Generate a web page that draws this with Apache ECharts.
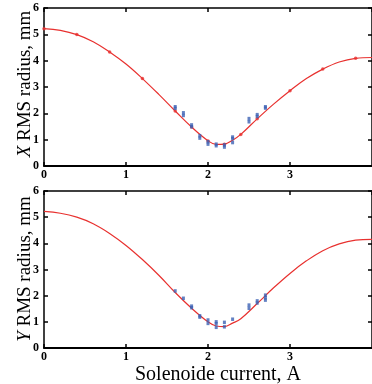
<!DOCTYPE html>
<html><head><meta charset="utf-8">
<script src="https://cdn.jsdelivr.net/npm/echarts@6/dist/echarts.min.js"></script>
<style>html,body{margin:0;padding:0;background:#fff}#c{width:372px;height:384px}</style>
</head><body><div id="c"></div>
<script>
// Fit curve, X panel
var fitXcur = [0,0.2,0.4,0.6,0.8,1.0,1.2,1.4,1.6,1.8,2.0,2.1,2.2,2.3,2.4,2.6,2.8,3.0,3.2,3.4,3.6,3.8,4.0];
var fitXval = [5.22,5.15,4.99,4.72,4.33,3.87,3.32,2.72,2.09,1.48,0.96,0.82,0.83,0.98,1.2,1.79,2.35,2.86,3.32,3.68,3.95,4.09,4.12];
// Fit markers, X panel
var markXcur = [0,0.4,0.8,1.2,1.6,1.8,2.0,2.2,2.4,2.6,3.0,3.4,3.8];
var markXval = [5.21,4.99,4.33,3.32,2.09,1.48,0.95,0.83,1.2,1.79,2.86,3.68,4.09];
// Measured, X panel
var measXcur = [1.6,1.6,1.7,1.7,1.8,1.8,1.9,1.9,2.0,2.0,2.1,2.1,2.2,2.2,2.3,2.3,2.3,2.5,2.5,2.6,2.6,2.7,2.7];
var measXval = [2.25,2.19,2.02,1.92,1.56,1.49,1.15,1.06,0.92,0.83,0.83,0.77,0.8,0.72,1.1,1.04,0.89,1.8,1.68,1.95,1.88,2.25,2.2];
// Fit curve, Y panel
var fitYcur = [0,0.2,0.4,0.6,0.8,1.0,1.2,1.4,1.6,1.8,2.0,2.1,2.2,2.3,2.4,2.6,2.8,3.0,3.2,3.4,3.6,3.8,4.0];
var fitYval = [5.22,5.15,5.0,4.75,4.38,3.92,3.38,2.78,2.12,1.52,1.0,0.84,0.82,0.95,1.12,1.7,2.3,2.85,3.33,3.72,3.98,4.12,4.15];
// Measured, Y panel
var measYcur = [1.6,1.7,1.8,1.8,1.9,1.9,2.0,2.0,2.1,2.1,2.1,2.2,2.2,2.3,2.5,2.5,2.6,2.6,2.7,2.7,2.7];
var measYval = [2.18,1.9,1.6,1.54,1.23,1.18,1.07,0.94,1.0,0.93,0.79,0.98,0.81,1.1,1.64,1.52,1.8,1.72,2.02,1.92,1.83];
// Ticks
var xTicks = [0,1,2,3];
var yTicks = [0,1,2,3,4,5,6];

function pairs(a,b){return a.map(function(v,i){return [v,b[i]];});}
var RED='#e8312f', BLUE='#3c62b4';
var lblFont = {fontFamily:'Liberation Serif', fontWeight:'bold', fontSize:12, color:'#000'};
function xAx(g, pos, labels){
  return {type:'value', gridIndex:g, position:pos, min:0, max:4, interval:1,
    axisLine:{show:true, onZero:false, lineStyle:{color:'#000', width:pos==='bottom'?2:1.5}},
    axisTick:{show:true, inside:true, length:4, lineStyle:{color:'#000', width:1.5}},
    axisLabel:Object.assign({show:labels, margin:3, showMaxLabel:false,
      formatter:function(v){return xTicks.indexOf(v)>=0?String(v):'';}}, lblFont),
    splitLine:{show:false}};
}
function yAx(g, pos, labels){
  return {type:'value', gridIndex:g, position:pos, min:0, max:6, interval:1,
    axisLine:{show:true, onZero:false, lineStyle:{color:'#000', width:1.5}},
    axisTick:{show:true, inside:true, length:4, lineStyle:{color:'#000', width:1.5}},
    axisLabel:Object.assign({show:labels, margin:5,
      formatter:function(v){return yTicks.indexOf(v)>=0?String(v):'';}}, lblFont),
    splitLine:{show:false}};
}
var chart = echarts.init(document.getElementById('c'), null, {renderer:'canvas'});
var titleFont = 'Liberation Serif';
chart.setOption({
  animation:false,
  grid:[{left:44, top:8, width:330, height:158},{left:44, top:191, width:330, height:157}],
  xAxis:[xAx(0,'bottom',true), xAx(0,'top',false), xAx(1,'bottom',true), xAx(1,'top',false)],
  yAxis:[yAx(0,'left',true), yAx(0,'right',false), yAx(1,'left',true), yAx(1,'right',false)],
  series:[
    {type:'line', xAxisIndex:0, yAxisIndex:0, data:pairs(fitXcur,fitXval), smooth:0.4, showSymbol:false, lineStyle:{color:RED, width:1.2}, z:2},
    {type:'scatter', xAxisIndex:0, yAxisIndex:0, data:pairs(markXcur,markXval), symbol:'circle', symbolSize:3.5, itemStyle:{color:RED}, z:3},
    {type:'scatter', xAxisIndex:0, yAxisIndex:0, data:pairs(measXcur,measXval), symbol:'rect', symbolSize:[3,3.5], itemStyle:{color:BLUE}, z:4},
    {type:'line', xAxisIndex:2, yAxisIndex:2, data:pairs(fitYcur,fitYval), smooth:0.4, showSymbol:false, lineStyle:{color:RED, width:1.2}, z:2},
    {type:'scatter', xAxisIndex:2, yAxisIndex:2, data:pairs(measYcur,measYval), symbol:'rect', symbolSize:[3,3.5], itemStyle:{color:BLUE}, z:4}
  ],
  graphic:[
    {type:'text', x:25, y:84, rotation:Math.PI/2, style:{text:'{i|X} RMS radius, mm', rich:{i:{fontStyle:'italic', fontFamily:titleFont, fontSize:19, fill:'#000'}}, font:'19px "Liberation Serif"', fill:'#000', align:'center', verticalAlign:'middle'}},
    {type:'text', x:25, y:269, rotation:Math.PI/2, style:{text:'{i|Y} RMS radius, mm', rich:{i:{fontStyle:'italic', fontFamily:titleFont, fontSize:19, fill:'#000'}}, font:'19px "Liberation Serif"', fill:'#000', align:'center', verticalAlign:'middle'}},
    {type:'text', x:218, y:375, style:{text:'Solenoide current, A', font:'20px "Liberation Serif"', fill:'#000', align:'center', verticalAlign:'middle'}}
  ]
});
</script></body></html>
